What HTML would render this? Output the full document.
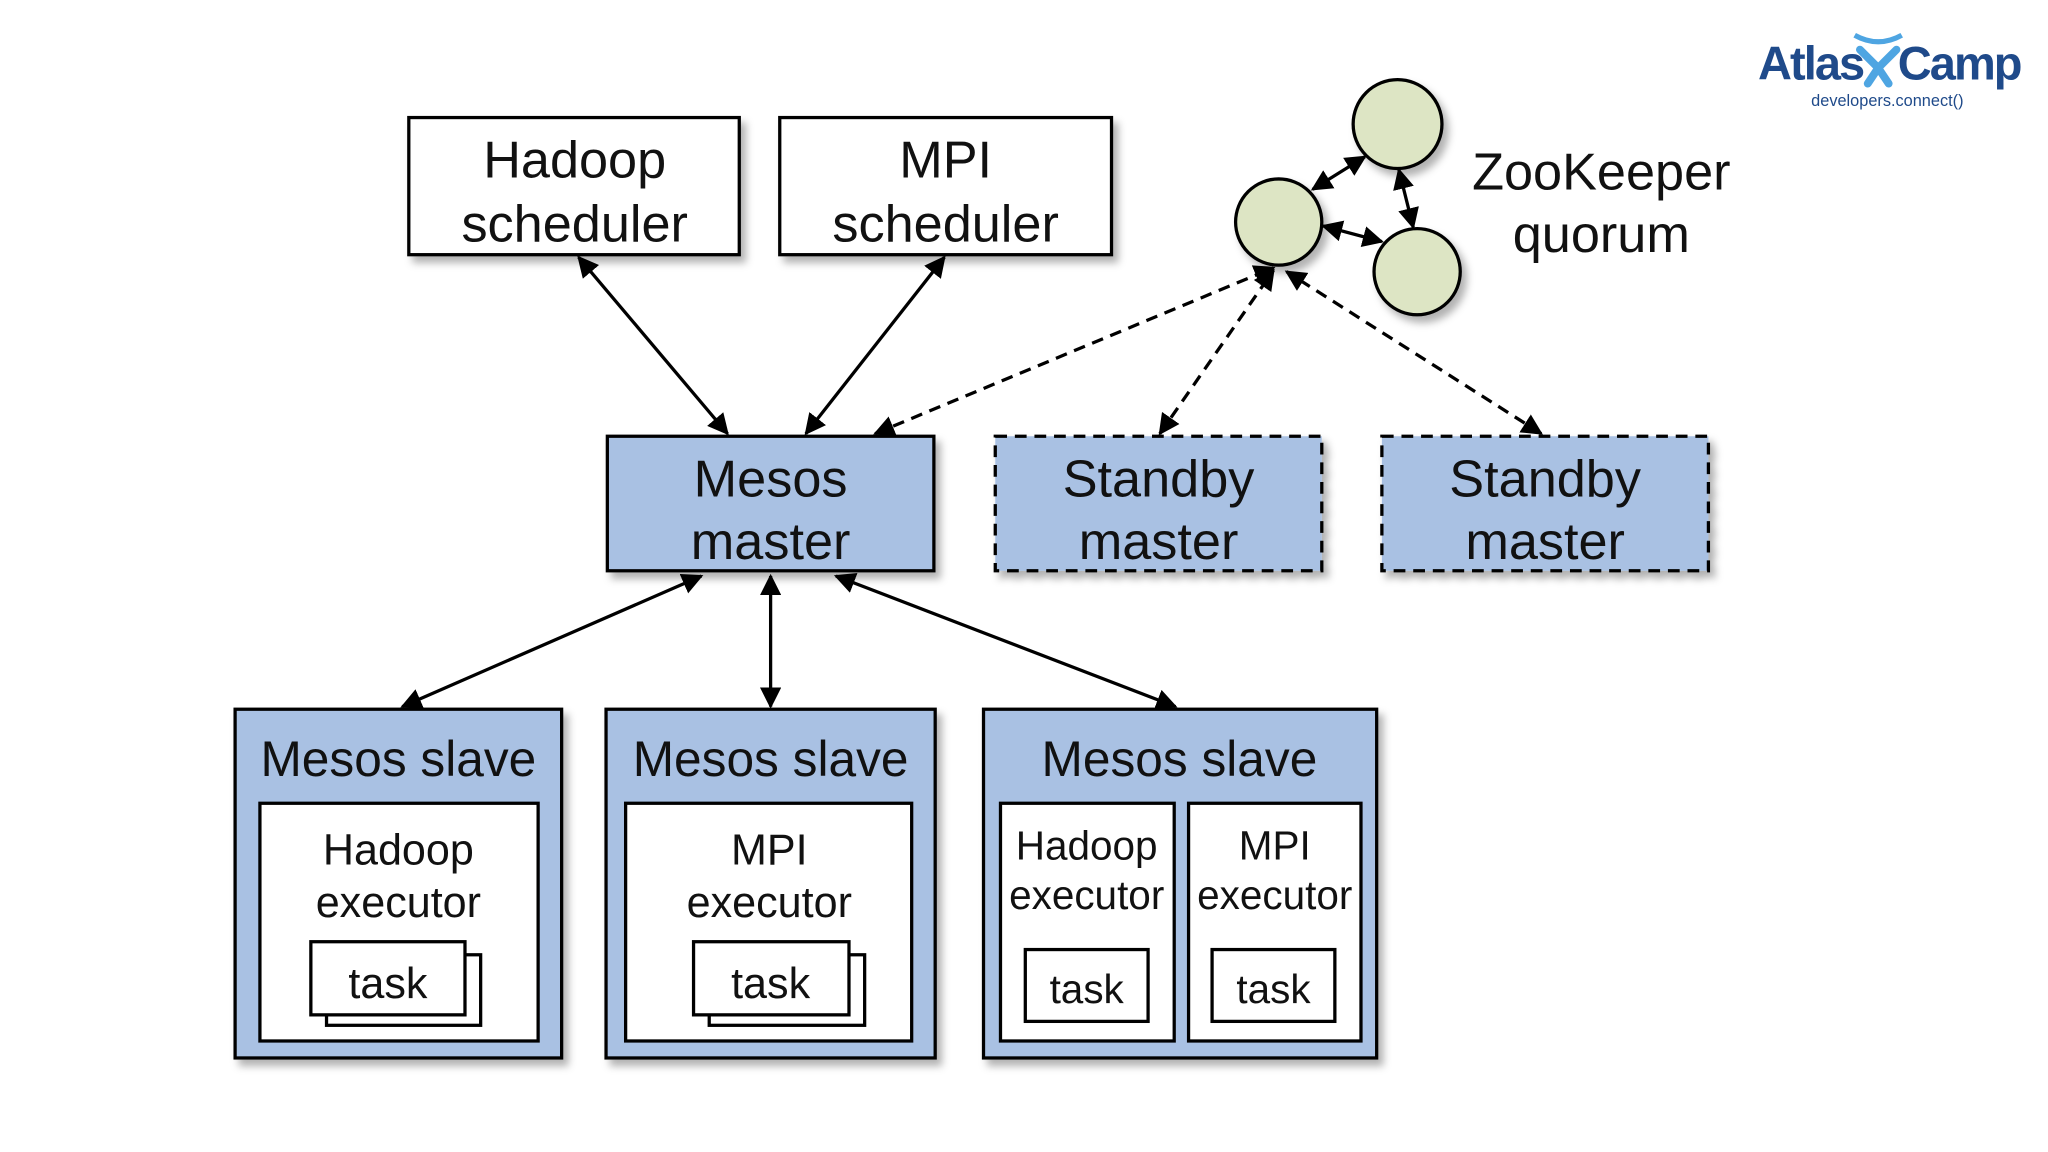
<!DOCTYPE html>
<html><head><meta charset="utf-8"><style>
html,body{margin:0;padding:0;background:#fff;}
svg{display:block;}
text{font-family:"Liberation Sans",sans-serif;fill:#111;}
</style></head><body>
<svg width="2048" height="1152" viewBox="0 0 1568 882" xmlns="http://www.w3.org/2000/svg">
<defs>
<filter id="sh" x="-10%" y="-10%" width="130%" height="130%">
<feDropShadow dx="4" dy="5" stdDeviation="3" flood-color="#000" flood-opacity="0.3"/>
</filter>
<marker id="a" viewBox="0 0 10 10" refX="9" refY="5" markerWidth="6.5" markerHeight="6.5" orient="auto-start-reverse">
<path d="M0,0 L10,5 L0,10 z" fill="#000"/>
</marker>
</defs>
<rect width="1568" height="882" fill="#fff"/>

<!-- logo -->
<text x="1346" y="61" style="font-weight:bold;font-size:36px;fill:#1f4a8a;letter-spacing:-1.5px">Atlas</text>
<path d="M1420,27 Q1438,37 1456,27" stroke="#4ea5e2" stroke-width="4" fill="none"/>
<path d="M1424,38 L1438,52 L1452,38 M1438,52 L1430,64 M1438,52 L1446,64" stroke="#4ea5e2" stroke-width="6" fill="none" stroke-linecap="round"/>
<text x="1453" y="61" style="font-weight:bold;font-size:36px;fill:#1f4a8a;letter-spacing:-1.5px">Camp</text>
<text x="1445" y="81" text-anchor="middle" style="font-size:12.5px;fill:#1f4a8a">developers.connect()</text>

<g filter="url(#sh)" stroke="#000" stroke-width="2.5" fill="#fff">
<rect x="313" y="90" width="253" height="105"/>
<rect x="597" y="90" width="254" height="105"/>
<rect x="465" y="334" width="250" height="103" fill="#a9c1e3"/>
<rect x="762" y="334" width="250" height="103" fill="#a9c1e3" stroke-dasharray="9,6"/>
<rect x="1058" y="334" width="250" height="103" fill="#a9c1e3" stroke-dasharray="9,6"/>
<circle cx="1070" cy="95" r="34" fill="#dde5c4"/>
<circle cx="979" cy="170" r="33" fill="#dde5c4"/>
<circle cx="1085" cy="208" r="33" fill="#dde5c4"/>
<rect x="180" y="543" width="250" height="267" fill="#a9c1e3"/>
<rect x="464" y="543" width="252" height="267" fill="#a9c1e3"/>
<rect x="753" y="543" width="301" height="267" fill="#a9c1e3"/>
</g>
<g stroke="#000" stroke-width="2.5" fill="#fff">
<rect x="199" y="615" width="213" height="182"/>
<rect x="479" y="615" width="219" height="182"/>
<rect x="766" y="615" width="133" height="182"/>
<rect x="910" y="615" width="132" height="182"/>
<rect x="250" y="731" width="118" height="54"/>
<rect x="238" y="721" width="118" height="56"/>
<rect x="543" y="731" width="119" height="54"/>
<rect x="531" y="721" width="119" height="56"/>
<rect x="785" y="727" width="94" height="55"/>
<rect x="928" y="727" width="94" height="55"/>
</g>

<g style="font-size:40px" text-anchor="middle">
<text x="440" y="136">Hadoop</text><text x="440" y="185">scheduler</text>
<text x="724" y="136">MPI</text><text x="724" y="185">scheduler</text>
<text x="590" y="380">Mesos</text><text x="590" y="428">master</text>
<text x="887" y="380">Standby</text><text x="887" y="428">master</text>
<text x="1183" y="380">Standby</text><text x="1183" y="428">master</text>
<text x="1226" y="145">ZooKeeper</text><text x="1226" y="193">quorum</text>
</g>
<g style="font-size:38px" text-anchor="middle">
<text x="305" y="594">Mesos slave</text>
<text x="590" y="594">Mesos slave</text>
<text x="903" y="594">Mesos slave</text>
</g>
<g style="font-size:33px" text-anchor="middle">
<text x="305" y="662">Hadoop</text><text x="305" y="702">executor</text>
<text x="589" y="662">MPI</text><text x="589" y="702">executor</text>
<text x="297" y="764">task</text><text x="590" y="764">task</text>
</g>
<g style="font-size:31px" text-anchor="middle">
<text x="832" y="658">Hadoop</text><text x="832" y="696">executor</text>
<text x="976" y="658">MPI</text><text x="976" y="696">executor</text>
<text x="832" y="768">task</text><text x="975" y="768">task</text>
</g>

<g stroke="#000" stroke-width="2.5" fill="none" marker-start="url(#a)" marker-end="url(#a)">
<line x1="443" y1="197" x2="557" y2="332"/>
<line x1="723" y1="197" x2="617" y2="332"/>
<line x1="537" y1="441" x2="308" y2="541"/>
<line x1="590" y1="441" x2="590" y2="541"/>
<line x1="640" y1="441" x2="900" y2="541"/>
<line x1="1005" y1="145" x2="1045" y2="120"/>
<line x1="1071" y1="130" x2="1082" y2="174"/>
<line x1="1013" y1="173" x2="1058" y2="185"/>
<g stroke-dasharray="9,6">
<line x1="670" y1="332" x2="975" y2="205"/>
<line x1="888" y1="332" x2="975" y2="207"/>
<line x1="1180" y1="332" x2="985" y2="208"/>
</g>
</g>
</svg>
</body></html>
